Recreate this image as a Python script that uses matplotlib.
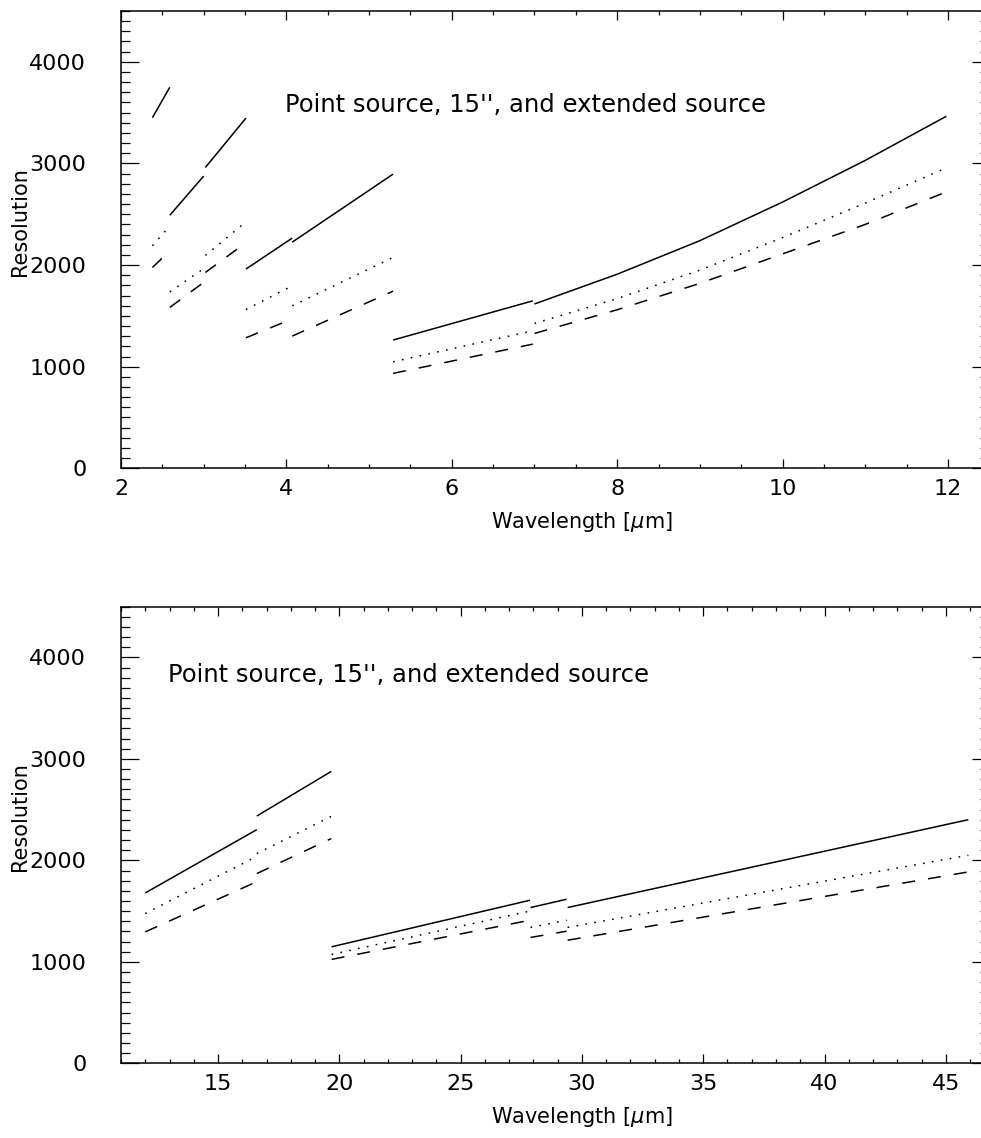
import matplotlib
matplotlib.use('Agg')
import matplotlib.pyplot as plt
from matplotlib.ticker import MultipleLocator

# Wavelength ranges of each grating segment (micron)
wl_short = [[2.38, 2.59], [2.59, 3.00], [3.02, 3.51], [3.51, 4.07],
            [4.07, 5.29], [5.29, 6.98], [7.0, 8.0, 9.0, 10.0, 11.0, 11.98]]
wl_long = [[12.0, 16.6], [16.6, 19.67], [19.68, 27.86], [27.88, 29.37], [29.41, 45.93]]

# Resolving power: point source, 15" source, extended source
point_short = [[3450, 3750], [2490, 2875], [2960, 3445], [1960, 2265],
               [2225, 2895], [1262, 1648], [1617, 1910, 2240, 2620, 3030, 3464]]
mid_short = [[2190, 2385], [1736, 1965], [2095, 2425], [1563, 1795],
             [1599, 2075], [1048, 1353], [1426, 1670, 1950, 2270, 2610, 2956]]
ext_short = [[1976, 2140], [1583, 1830], [1927, 2220], [1284, 1470],
             [1301, 1743], [934, 1222], [1327, 1560, 1820, 2110, 2400, 2720]]

point_long = [[1679, 2303], [2437, 2877], [1148, 1607], [1535, 1617], [1535, 2401]]
mid_long = [[1476, 2040], [2067, 2434], [1073, 1500], [1339, 1410], [1339, 2050]]
ext_long = [[1295, 1790], [1870, 2215], [1024, 1410], [1240, 1302], [1213, 1886]]

label_text = "Point source, 15'', and extended source"

plt.rcParams['font.family'] = ['DejaVu Sans']
plt.rcParams['lines.scale_dashes'] = False

W, H = 981, 1138
fig = plt.figure(figsize=(W / 100, H / 100), dpi=100, facecolor='white')

# right frame sits just past the image edge, only the tick tips show
left_px, right_px = 121, 988.5


def make_axes(top_px, bottom_px):
    return fig.add_axes([left_px / W, 1 - bottom_px / H,
                         (right_px - left_px) / W, (bottom_px - top_px) / H])


def style_axes(ax, xlim, xmajor, xminor):
    ax.set_xlim(*xlim)
    ax.set_ylim(0, 4500)
    ax.xaxis.set_major_locator(MultipleLocator(xmajor))
    ax.xaxis.set_minor_locator(MultipleLocator(xminor))
    ax.yaxis.set_major_locator(MultipleLocator(1000))
    ax.yaxis.set_minor_locator(MultipleLocator(100))
    ax.tick_params(which='both', direction='in', top=True, right=True,
                   width=0.9, colors='black', labelsize=16)
    ax.tick_params(axis='x', which='major', length=6.5, pad=8)
    ax.tick_params(axis='x', which='minor', length=3.2)
    ax.tick_params(axis='y', which='major', length=12.6, pad=25)
    ax.tick_params(axis='y', which='minor', length=6.3)
    for s in ax.spines.values():
        s.set_linewidth(1.1)
    ax.set_xlabel('Wavelength [$\\mu$m]', fontsize=15, va='center')
    ax.xaxis.set_label_coords(0.531, -0.118)
    ax.set_ylabel('Resolution', fontsize=15, va='center')
    ax.yaxis.set_label_coords(-0.116, 0.54)


def draw_series(ax, wl, ys, dashes):
    for x, y in zip(wl, ys):
        if dashes is None:
            ax.plot(x, y, color='black', lw=1.1, solid_capstyle='butt')
        else:
            ax.plot(x, y, color='black', lw=1.1, dashes=dashes, dash_capstyle='butt')


ax1 = make_axes(11, 468.3)
style_axes(ax1, (2, 12.49), 2, 0.5)
draw_series(ax1, wl_short, point_short, None)
draw_series(ax1, wl_short, mid_short, (1.2, 5.3))
draw_series(ax1, wl_short, ext_short, (9.4, 9.4))
ax1.text(3.98, 3572, label_text, fontsize=17.5, ha='left', va='center')

ax2 = make_axes(606.7, 1063.3)
style_axes(ax2, (11, 46.76), 5, 1)
draw_series(ax2, wl_long, point_long, None)
draw_series(ax2, wl_long, mid_long, (1.2, 5.3))
draw_series(ax2, wl_long, ext_long, (9.4, 9.4))
ax2.text(12.94, 3822, label_text, fontsize=17.5, ha='left', va='center')

fig.savefig('out.png', dpi=100, facecolor='white')
